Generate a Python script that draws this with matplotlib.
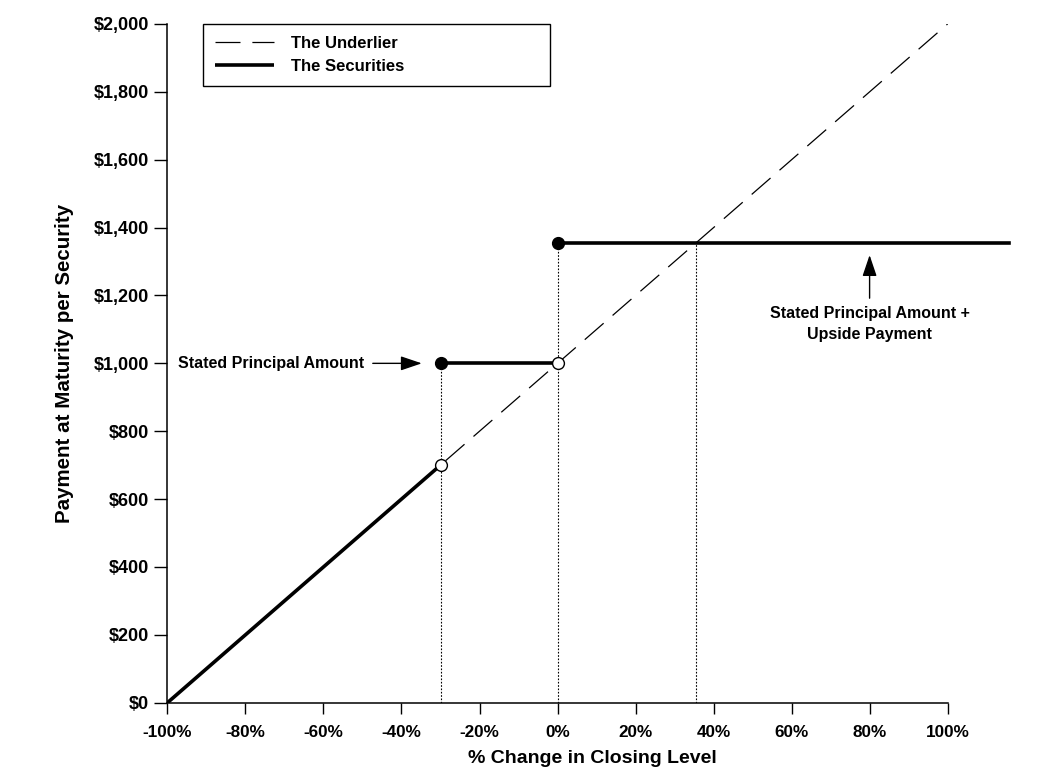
import numpy as np
import matplotlib
matplotlib.use("Agg")
import matplotlib.pyplot as plt

plt.rcParams['font.family'] = ['Liberation Sans', 'DejaVu Sans']
plt.rcParams['font.weight'] = 'bold'

# data (% change vs payment per security)
underlier_x = [-100, 100]
underlier_y = [0, 2000]

cap_level = 1355          # stated principal + upside payment
barrier = -30
principal = 1000
cross_x = 35.5            # where the underlier reaches the capped payment
right_end = 115.7

seg_down_x = [-100, barrier]
seg_down_y = [0, 700]
seg_flat_x = [barrier, 0]
seg_flat_y = [principal, principal]
seg_up_x = [0, right_end]
seg_up_y = [cap_level, cap_level]

filled_x = [barrier, 0]
filled_y = [principal, cap_level]
open_x = [barrier, 0]
open_y = [700, principal]

vline_x = [barrier, 0, cross_x]
vline_top = [principal, cap_level, cap_level]

x_ticks = list(range(-100, 101, 20))
y_ticks = list(range(0, 2001, 200))

fig = plt.figure(figsize=(10.42, 7.84), dpi=100)
ax = fig.add_axes([0.1607, 0.1037, 0.8161, 0.8657])

ax.plot(underlier_x, underlier_y, color='black', lw=0.9, dashes=(20, 9.5),
        label='The Underlier', zorder=2)
ax.plot(seg_down_x, seg_down_y, color='black', lw=2.6, label='The Securities',
        solid_capstyle='butt', zorder=3)
ax.plot(seg_flat_x, seg_flat_y, color='black', lw=2.6, zorder=3)
ax.plot(seg_up_x, seg_up_y, color='black', lw=2.6, zorder=3, clip_on=False)

for vx, vt in zip(vline_x, vline_top):
    ax.plot([vx, vx], [0, vt], color='black', lw=0.8, ls=(0, (1.5, 1.5)), zorder=1)

ax.plot(filled_x, filled_y, 'o', color='black', ms=8.5, zorder=5)
ax.plot(open_x, open_y, 'o', mfc='white', mec='black', mew=1, ms=8.5, zorder=5)

arrow_style = '-|>,head_length=0.65,head_width=0.22'
ax.annotate('Stated Principal Amount', xy=(-34.8, principal), xytext=(-49.5, principal),
            ha='right', va='center', fontsize=11.5, fontweight='bold',
            arrowprops=dict(arrowstyle=arrow_style, color='black', lw=1, mutation_scale=20,
                            shrinkA=4, shrinkB=0))
ax.annotate('', xy=(80, 1319), xytext=(80, 1192),
            arrowprops=dict(arrowstyle=arrow_style, color='black', lw=1, mutation_scale=20,
                            shrinkA=0, shrinkB=0))
ax.text(80, 1170, 'Stated Principal Amount +\nUpside Payment', ha='center', va='top',
        fontsize=11.5, fontweight='bold', linespacing=1.5)

ax.set_xlim(-100, 118)
ax.set_ylim(0, 2000)
ax.spines['top'].set_visible(False)
ax.spines['right'].set_visible(False)
ax.spines['bottom'].set_bounds(-100, 100)
ax.spines['left'].set_linewidth(1.1)
ax.spines['bottom'].set_linewidth(1.1)

ax.set_xticks(x_ticks)
ax.set_xticklabels([f'{t}%' for t in x_ticks], fontsize=12.3, fontweight='bold')
ax.set_yticks(y_ticks)
ax.set_yticklabels([f'${t:,}' for t in y_ticks], fontsize=13, fontweight='bold')
ax.tick_params(axis='y', length=9.5, width=1, pad=4)
ax.tick_params(axis='x', length=8, width=1, pad=8)

ax.set_xlabel('% Change in Closing Level', fontsize=14, fontweight='bold', labelpad=7)
ax.set_ylabel('Payment at Maturity per Security', fontsize=14.8, fontweight='bold', labelpad=14)

leg = ax.legend(loc='upper left', bbox_to_anchor=(0.1948, 0.8929, 0.333, 0.0765),
                bbox_transform=fig.transFigure, mode='expand', borderaxespad=0,
                fancybox=False, framealpha=1, edgecolor='black', fontsize=12,
                handlelength=3.55, handletextpad=1.0, labelspacing=0.5, borderpad=0.72)
leg.get_frame().set_linewidth(1)
for t in leg.get_texts():
    t.set_fontweight('bold')

fig.savefig('out.png', dpi=100)
